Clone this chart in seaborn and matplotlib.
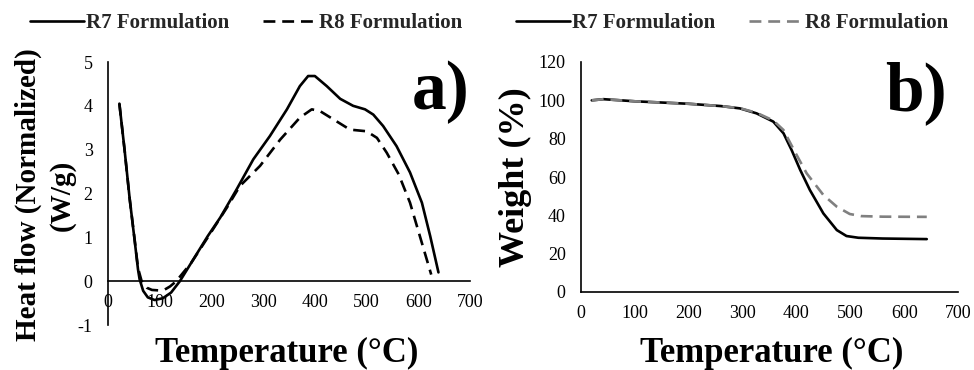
import matplotlib
matplotlib.use("Agg")
import matplotlib.pyplot as plt
import seaborn as sns
import pandas as pd
from matplotlib.lines import Line2D

# ---- data ----
dsc_r7_t = [22, 32, 42, 52, 58, 61, 68, 77, 90, 106, 122, 139, 161, 193, 217, 249, 281, 313, 346, 371, 387, 400, 423, 449, 474, 497, 513, 532, 558, 584, 607, 623, 639]
dsc_r7_y = [4.05, 3.0, 1.87, 0.88, 0.27, 0.05, -0.22, -0.37, -0.43, -0.39, -0.26, 0.0, 0.42, 1.03, 1.45, 2.1, 2.78, 3.31, 3.92, 4.45, 4.68, 4.68, 4.45, 4.16, 4.0, 3.92, 3.8, 3.54, 3.08, 2.48, 1.79, 1.03, 0.2]
dsc_r8_t = [22, 32, 42, 52, 58, 65, 75, 85, 97, 110, 120, 132, 161, 193, 230, 255, 294, 333, 371, 394, 410, 436, 462, 474, 500, 520, 539, 562, 584, 603, 620, 625]
dsc_r8_y = [4.05, 3.0, 1.87, 0.9, 0.3, 0.0, -0.15, -0.2, -0.21, -0.19, -0.12, 0.0, 0.42, 1.0, 1.68, 2.17, 2.63, 3.23, 3.73, 3.92, 3.88, 3.69, 3.50, 3.45, 3.42, 3.27, 2.93, 2.44, 1.79, 1.03, 0.35, 0.15]

tga_r7_t = [20, 42, 100, 200, 260, 295, 326, 357, 376, 391, 407, 425, 450, 475, 493, 515, 560, 642]
tga_r7_y = [100.0, 100.6, 99.5, 98.2, 97.0, 95.8, 93.2, 88.9, 82.8, 74.1, 63.7, 53.2, 41.0, 32.3, 29.2, 28.3, 27.9, 27.6]
tga_r8_t = [20, 42, 100, 200, 260, 295, 326, 357, 376, 397, 419, 450, 475, 499, 520, 560, 642]
tga_r8_y = [100.0, 100.6, 99.5, 98.2, 97.0, 95.9, 93.5, 89.5, 84.5, 73.2, 61.9, 50.6, 44.5, 40.7, 39.6, 39.3, 39.2]

series_names = ["R7 Formulation", "R8 Formulation"]
x_ticks = [0, 100, 200, 300, 400, 500, 600, 700]
dsc_yticks = [-1, 0, 1, 2, 3, 4, 5]
tga_yticks = [0, 20, 40, 60, 80, 100, 120]

def long_df(t1, y1, t2, y2):
    return pd.DataFrame({
        "T": list(t1) + list(t2),
        "v": list(y1) + list(y2),
        "s": [series_names[0]] * len(t1) + [series_names[1]] * len(t2),
    })

df_a = long_df(dsc_r7_t, dsc_r7_y, dsc_r8_t, dsc_r8_y)
df_b = long_df(tga_r7_t, tga_r7_y, tga_r8_t, tga_r8_y)

sns.set_style("white")
plt.rcParams["font.family"] = ["Liberation Serif", "DejaVu Serif"]
plt.rcParams["axes.unicode_minus"] = False

fig = plt.figure(figsize=(9.74, 3.70), dpi=100)
W, H = 974, 370
def rect(x0, y0, x1, y1):
    return [x0 / W, 1 - y1 / H, (x1 - x0) / W, (y1 - y0) / H]

ax1 = fig.add_axes(rect(108, 62, 470, 325))
ax2 = fig.add_axes(rect(581, 62, 958, 292))

lw = 1.9
dash = (4.5, 2.6)
common = dict(linewidth=lw, legend=False, sort=False, estimator=None,
              solid_joinstyle="round", solid_capstyle="round")
sns.lineplot(data=df_a, x="T", y="v", hue="s", style="s",
             palette={series_names[0]: "black", series_names[1]: "black"},
             dashes={series_names[0]: "", series_names[1]: dash}, ax=ax1, **common)
sns.lineplot(data=df_b, x="T", y="v", hue="s", style="s",
             palette={series_names[0]: "black", series_names[1]: "#808080"},
             dashes={series_names[0]: "", series_names[1]: dash}, ax=ax2, **common)

for ax, yt in ((ax1, dsc_yticks), (ax2, tga_yticks)):
    ax.set_xlim(0, 700)
    ax.set_ylim(yt[0], yt[-1])
    ax.set_xticks(x_ticks)
    ax.set_yticks(yt)
    ax.set_xlabel("")
    ax.set_ylabel("")
    for s in ("top", "right"):
        ax.spines[s].set_visible(False)
    for s in ("left", "bottom"):
        ax.spines[s].set_linewidth(1.2)
        ax.spines[s].set_color("black")
    ax.tick_params(axis="both", direction="out", length=5, width=1.2,
                   labelsize=13, colors="black")
    ax.tick_params(axis="y", pad=6)
    ax.tick_params(axis="x", pad=4.5)
    ax.patch.set_alpha(0)

ax1.spines["bottom"].set_position(("data", 0))

# legends
def add_legend(c2, anchor_x):
    handles = [Line2D([], [], color="black", lw=lw),
               Line2D([], [], color=c2, lw=lw, dashes=dash)]
    fig.legend(handles, series_names, loc="center", bbox_to_anchor=(anchor_x / W, 1 - 23 / H),
               ncol=2, frameon=False, handlelength=2.6, handletextpad=0.1,
               columnspacing=1.6, prop={"family": "Liberation Serif", "weight": "bold", "size": 15})

add_legend("black", 246)
add_legend("#808080", 732)

bold = dict(family="Liberation Serif", weight="bold", color="black")
fig.text(287 / W, 1 - 353 / H, "Temperature (°C)", ha="center", va="center", fontsize=25, **bold)
fig.text(772 / W, 1 - 353 / H, "Temperature (°C)", ha="center", va="center", fontsize=25, **bold)
fig.text(45 / W, 1 - 195 / H, "Heat flow (Normalized)\n(W/g)", ha="center", va="center",
         rotation=90, fontsize=21, linespacing=1.3, **bold)
fig.text(515 / W, 1 - 177 / H, "Weight (%)", ha="center", va="center",
         rotation=90, fontsize=26, **bold)
fig.text(441 / W, 1 - 92 / H, "a)", ha="center", va="center", fontsize=50, **bold)
fig.text(916 / W, 1 - 93 / H, "b)", ha="center", va="center", fontsize=50, **bold)

fig.savefig("out.png", dpi=100, facecolor="white")
